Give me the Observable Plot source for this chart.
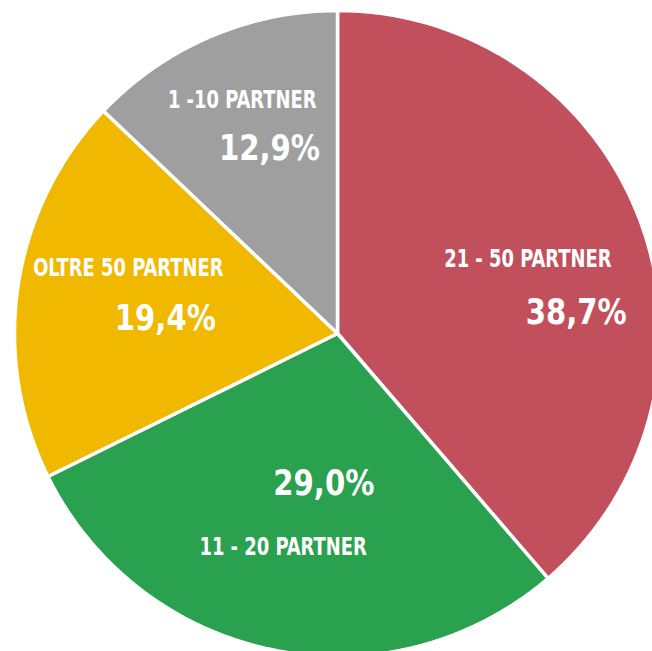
<!DOCTYPE html>
<html><head><meta charset="utf-8">
<script src="https://cdn.jsdelivr.net/npm/d3@7"></script>
<script src="https://cdn.jsdelivr.net/npm/@observablehq/plot@0.6"></script>
<style>
html,body{margin:0;padding:0;background:#fff;overflow:hidden}
#chart svg{display:block;overflow:hidden}
</style></head><body><div id="chart"></div>
<script>
// ---- data ----
const categories = ["21 - 50 PARTNER", "11 - 20 PARTNER", "OLTRE 50 PARTNER", "1 -10 PARTNER"];
const shares = [38.7, 29.0, 19.4, 12.9];
const valueLabels = ["38,7%", "29,0%", "19,4%", "12,9%"];
const colors = ["#c2505c", "#2aa14e", "#f1b800", "#9f9f9f"];

// ---- layout (polar placement of texts: degrees clockwise from top, fraction of radius) ----
const labelAngle = [68.6, 194.3, 287.2, 337.8];
const labelRadius = [0.633, 0.682, 0.678, 0.781];
const valueAngle = [85.0, 185.2, 275.0, 339.8];
const valueRadius = [0.742, 0.466, 0.535, 0.610];

const W = 652, H = 651, CX = 337, CY = 333, R = 323;
const FONT = '"DejaVu Sans Condensed", "Liberation Sans Narrow", sans-serif';
const LABEL_SIZE = 24, VALUE_SIZE = 36;
const LABEL_SQUEEZE = 0.83, VALUE_SQUEEZE = 0.9;

// angle clockwise from top -> longitude (north pole at centre)
const lonOf = a => 180 - a;
const latOf = f => 90 - 90 * f;

const total = d3.sum(shares);
let acc = 0;
const features = categories.map((c, i) => {
  const a0 = acc / total * 360;
  acc += shares[i];
  const a1 = acc / total * 360;
  const lonMax = lonOf(a0), lonMin = lonOf(a1);
  const ring = [[lonMin, 90], [lonMax, 90]];
  const n = Math.max(2, Math.ceil((lonMax - lonMin) / 2));
  for (let k = 0; k <= n; k++) ring.push([lonMax - (lonMax - lonMin) * k / n, 0]);
  ring.push([lonMin, 90]);
  return {type: "Feature", properties: {category: c}, geometry: {type: "Polygon", coordinates: [ring]}};
});

const texts = categories.map((c, i) => ({
  category: c,
  value: valueLabels[i],
  lx: lonOf(labelAngle[i]), ly: latOf(labelRadius[i]),
  vx: lonOf(valueAngle[i]), vy: latOf(valueRadius[i])
}));

const projection = d3.geoAzimuthalEquidistant()
  .rotate([0, -90])
  .scale(R * 2 / Math.PI)
  .translate([CX, CY])
  .precision(0.1);

const chart = Plot.plot({
  width: W, height: H, margin: 0,
  projection,
  color: {domain: categories, range: colors},
  marks: [
    Plot.geo(features, {fill: d => d.properties.category, stroke: "white", strokeWidth: 3.5}),
    Plot.text(texts, {x: "lx", y: "ly", text: "category", fill: "white", fontSize: LABEL_SIZE,
      fontWeight: "bold", fontFamily: FONT, textAnchor: "middle"}),
    Plot.text(texts, {x: "vx", y: "vy", text: "value", fill: "white", fontSize: VALUE_SIZE,
      fontWeight: "bold", fontFamily: FONT, textAnchor: "middle"})
  ]
});

// condense the text horizontally (narrow display face of the original)
chart.querySelectorAll("text").forEach(el => {
  const size = +el.parentNode.getAttribute("font-size");
  const k = size === LABEL_SIZE ? LABEL_SQUEEZE : size === VALUE_SIZE ? VALUE_SQUEEZE : 1;
  const t = el.getAttribute("transform");
  if (k === 1 || !t) return;
  el.setAttribute("transform", `${t} scale(${k},1)`);
});

document.getElementById("chart").appendChild(chart);
</script></body></html>
